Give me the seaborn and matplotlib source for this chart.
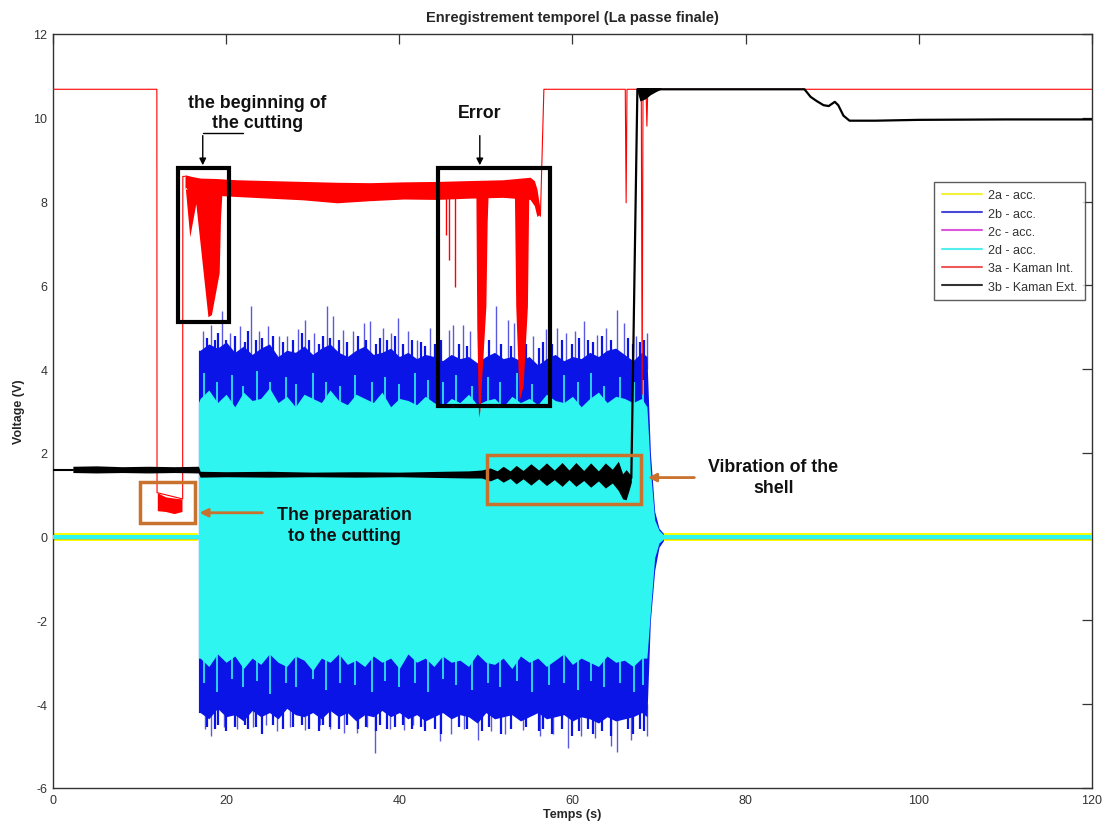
import numpy as np
import matplotlib.pyplot as plt
import matplotlib.patches as patches
from matplotlib.lines import Line2D
import seaborn as sns

sns.set_theme(style='white')
plt.rcParams['font.family'] = ['Liberation Sans', 'DejaVu Sans']
plt.rcParams['axes.unicode_minus'] = False

# ---- accelerometers 2b (blue) / 2d (cyan): envelopes ----
acc_t = [16.8,
         17, 18, 19, 20, 21, 22, 23, 24, 25, 26,
         27, 28, 29, 30, 31, 32, 33, 34, 35, 36,
         37, 38, 39, 40, 41, 42, 43, 44, 45, 46,
         47, 48, 49, 50, 51, 52, 53, 54, 55, 56,
         57, 58, 59, 60, 61, 62, 63, 64, 65, 66,
         67, 68,
         68.6, 69.0, 69.5, 70.0, 70.5]
blue_hi = [4.45,
           4.45, 4.6, 4.5, 4.65, 4.4, 4.55, 4.35, 4.5, 4.6, 4.3,
           4.45, 4.4, 4.55, 4.35, 4.5, 4.6, 4.4, 4.3, 4.45, 4.55,
           4.35, 4.4, 4.5, 4.3, 4.4, 4.25, 4.35, 4.3, 4.2, 4.35,
           4.25, 4.3, 4.15, 4.3, 4.4, 4.25, 4.3, 4.2, 4.3, 4.1,
           4.25, 4.35, 4.2, 4.3, 4.25, 4.4, 4.3, 4.45, 4.5, 4.35,
           4.2, 4.4,
           4.3, 2.0, 0.6, 0.2, 0.08]
blue_lo = [-4.2,
           -4.2, -4.35, -4.1, -4.3, -4.25, -4.4, -4.15, -4.3, -4.2, -4.35,
           -4.1, -4.25, -4.3, -4.2, -4.35, -4.15, -4.3, -4.2, -4.4, -4.25,
           -4.3, -4.15, -4.3, -4.2, -4.35, -4.25, -4.4, -4.3, -4.2, -4.35,
           -4.25, -4.3, -4.45, -4.2, -4.35, -4.3, -4.25, -4.4, -4.3, -4.2,
           -4.35, -4.3, -4.25, -4.4, -4.3, -4.35, -4.45, -4.3, -4.4, -4.35,
           -4.3, -4.2,
           -4.3, -2.0, -0.8, -0.25, -0.1]
cyan_hi = [3.2,
           3.3, 3.5, 3.2, 3.4, 3.1, 3.45, 3.25, 3.3, 3.55, 3.2,
           3.35, 3.1, 3.4, 3.3, 3.2, 3.5, 3.25, 3.15, 3.4, 3.3,
           3.2, 3.45, 3.1, 3.3, 3.25, 3.15, 3.35, 3.2, 3.1, 3.3,
           3.2, 3.4, 3.15, 3.25, 3.3, 3.1, 3.35, 3.2, 3.3, 3.15,
           3.4, 3.25, 3.2, 3.35, 3.1, 3.3, 3.45, 3.2, 3.35, 3.3,
           3.2, 3.3,
           3.1, 1.6, 0.4, 0.15, 0.05]
cyan_lo = [-2.9,
           -2.9, -3.1, -2.8, -3.0, -2.85, -3.15, -2.9, -3.05, -2.8, -3.0,
           -3.1, -2.85, -2.95, -3.2, -2.9, -3.0, -2.8, -3.05, -2.95, -3.1,
           -2.85, -3.0, -2.9, -3.15, -2.8, -3.0, -2.9, -3.1, -2.85, -3.0,
           -2.95, -3.1, -2.8, -3.0, -3.05, -2.9, -3.15, -2.85, -3.0, -2.9,
           -3.1, -2.95, -2.8, -3.05, -2.9, -3.0, -3.1, -2.85, -3.0, -2.95,
           -3.1, -2.9,
           -2.9, -1.8, -0.5, -0.15, -0.06]

# tall (light) spikes of 2b
top_spike_t = [17.3, 18.2, 19.5, 20.4, 21.6, 22.9, 23.8, 24.8, 26.1, 27.0,
               28.3, 29.1, 30.2, 31.7, 32.4, 33.5, 34.6, 35.9, 36.6, 38.1,
               39.0, 39.9, 41.0, 42.0, 43.5, 45.7, 46.2, 47.4, 48.2, 51.2,
               52.5, 53.2, 55.5, 57.0, 58.2, 59.3, 60.3, 61.3, 62.8, 63.9,
               65.1, 65.9, 67.3, 68.6]
top_spike_v = [4.9, 5.05, 5.38, 4.85, 5.02, 5.5, 4.9, 5.02, 4.8, 4.78,
               4.95, 5.18, 4.85, 5.5, 5.26, 4.94, 4.9, 5.1, 5.14, 4.98,
               4.85, 5.22, 4.9, 4.7, 4.98, 4.94, 5.06, 5.06, 4.9, 5.5,
               5.18, 5.1, 4.78, 4.95, 4.98, 4.86, 4.9, 5.14, 4.82, 4.98,
               5.42, 5.1, 4.8, 4.86]
bot_spike_t = [17.6, 18.3, 19.8, 21.2, 23.1, 24.6, 25.9, 27.4, 29.1, 30.8,
               32.0, 33.6, 35.1, 36.3, 37.2, 38.9, 40.5, 41.6, 42.8, 44.7,
               46.0, 47.5, 49.1, 50.6, 52.2, 54.3, 56.2, 57.8, 59.5, 61.0,
               62.6, 64.5, 65.1, 66.8, 68.6]
bot_spike_v = [-4.6, -4.77, -4.55, -4.6, -4.54, -4.5, -4.65, -4.55, -4.61, -4.5,
               -4.6, -4.69, -4.69, -4.55, -5.16, -4.6, -4.61, -4.5, -4.53, -4.89,
               -4.7, -4.6, -4.85, -4.65, -4.7, -4.61, -4.77, -4.7, -5.05, -4.75,
               -4.8, -5.0, -5.13, -4.85, -4.77]
# short (dark) spikes of 2b
mid_spike_t = [17.8, 18.7, 19.1, 20.0, 21.0, 22.2, 22.5, 23.4, 24.2, 25.4,
               26.6, 27.7, 28.8, 29.6, 30.7, 31.2, 32.0, 33.0, 34.0, 35.2,
               36.1, 37.3, 37.8, 38.6, 39.5, 40.4, 41.5, 42.5, 43.0, 44.1,
               44.8, 46.9, 47.8, 49.6, 50.4, 51.8, 52.9, 54.6, 56.1, 56.6,
               57.6, 58.8, 59.9, 60.8, 61.8, 62.4, 63.4, 64.5, 66.4, 67.0,
               67.8, 68.3]
mid_spike_hi = [4.75, 4.7, 4.85, 4.7, 4.8, 4.65, 4.9, 4.7, 4.75, 4.8,
                4.65, 4.7, 4.85, 4.7, 4.6, 4.8, 4.75, 4.7, 4.65, 4.8,
                4.7, 4.6, 4.75, 4.7, 4.8, 4.6, 4.7, 4.65, 4.55, 4.6,
                4.7, 4.6, 4.55, 4.65, 4.7, 4.6, 4.55, 4.6, 4.5, 4.65,
                4.6, 4.7, 4.6, 4.75, 4.7, 4.65, 4.8, 4.7, 4.75, 4.6,
                4.65, 4.7]
mid_spike_lo = [-4.55, -4.6, -4.5, -4.65, -4.55, -4.5, -4.6, -4.55, -4.7, -4.5,
                -4.6, -4.55, -4.5, -4.6, -4.65, -4.5, -4.55, -4.6, -4.5, -4.6,
                -4.55, -4.65, -4.5, -4.6, -4.55, -4.5, -4.6, -4.55, -4.65, -4.6,
                -4.7, -4.55, -4.6, -4.65, -4.55, -4.7, -4.6, -4.55, -4.65, -4.6,
                -4.7, -4.6, -4.75, -4.65, -4.6, -4.7, -4.65, -4.75, -4.6, -4.7,
                -4.6, -4.65]
# spikes of 2d reaching into the 2b band
cyan_spike_t = [17.4, 18.9, 20.7, 21.9, 23.6, 25.1, 26.9, 28.1, 30.0, 31.5,
                33.2, 34.9, 36.8, 38.4, 40.0, 41.8, 43.3, 45.0, 46.6, 48.4,
                50.2, 51.6, 53.6, 55.3, 57.3, 59.0, 60.6, 62.2, 63.7, 65.5,
                67.1, 68.2]
cyan_spike_hi = [3.9, 3.7, 3.85, 3.6, 3.95, 3.7, 3.8, 3.65, 3.9, 3.7,
                 3.6, 3.85, 3.7, 3.8, 3.65, 3.9, 3.75, 3.7, 3.85, 3.6,
                 3.8, 3.7, 3.9, 3.65, 3.75, 3.85, 3.7, 3.9, 3.6, 3.8,
                 3.7, 3.75]
cyan_spike_lo = [-3.5, -3.7, -3.4, -3.6, -3.45, -3.75, -3.5, -3.6, -3.4, -3.65,
                 -3.5, -3.55, -3.7, -3.45, -3.6, -3.5, -3.7, -3.4, -3.55, -3.65,
                 -3.5, -3.6, -3.45, -3.7, -3.55, -3.5, -3.65, -3.45, -3.6, -3.5,
                 -3.7, -3.55]

# quiet parts of the four accelerometers (before / after cutting)
quiet_pre_t = [0, 16.8]
quiet_post_t = [70.5, 120]
yellow_hi, yellow_lo = 0.09, -0.11
magenta_v, blue_v, cyan_v = 0.02, -0.03, 0.0

# ---- 3a Kaman Int. (red) ----
red_pre_t = [0, 12.0, 12.02, 14.98, 15.0, 15.25]
red_pre_v = [10.68, 10.68, 1.05, 0.9, 8.6, 8.6]
red_prep_t = [12.05, 13, 14, 14.9]
red_prep_hi = [1.05, 0.95, 0.92, 0.9]
red_prep_lo = [0.62, 0.6, 0.55, 0.6]
red_band_t = [15.25, 16, 17, 18.8, 21.2, 25, 28.9, 32.8, 36.6, 40.5, 44.3, 48, 52, 55.1, 55.6, 55.9, 56.2]
red_band_hi = [8.64, 8.6, 8.56, 8.55, 8.52, 8.5, 8.48, 8.46, 8.45, 8.47, 8.48, 8.5, 8.52, 8.58, 8.5, 8.3, 7.9]
red_band_lo = [8.35, 8.2, 8.15, 8.15, 8.12, 8.08, 8.04, 7.97, 8.02, 8.06, 8.05, 8.08, 8.1, 8.05, 7.9, 7.64, 7.7]
cut_drop_t = [15.25, 15.8, 16.5, 17.9, 18.3, 19.2, 19.35, 19.5]
cut_drop_lo = [8.4, 7.16, 7.95, 5.25, 5.3, 6.3, 7.6, 8.15]
err_drop1_t = [48.85, 48.95, 49.15, 49.3, 50.0, 50.15, 50.25]
err_drop1_lo = [8.1, 5.0, 2.85, 3.0, 5.5, 7.5, 8.1]
err_drop2_t = [53.3, 53.45, 53.85, 54.3, 54.8, 54.95]
err_drop2_lo = [8.1, 5.5, 3.25, 3.6, 5.5, 8.1]
thin_drop_t = [45.4, 45.7, 46.4]
thin_drop_v = [7.2, 6.6, 5.97]
red_post_t = [56.2, 56.3, 56.7, 66.1, 66.2, 66.3, 67.95, 68.05, 68.15, 68.5, 68.6, 68.7, 120]
red_post_v = [7.7, 7.65, 10.68, 10.68, 7.97, 10.68, 10.68, 3.4, 10.68, 10.68, 9.8, 10.68, 10.68]

# ---- 3b Kaman Ext. (black) ----
blk_pre_t = [0, 2.3]
blk_pre_v = [1.6, 1.6]
blk_band_t = [2.3, 5, 8, 11, 14, 16.8, 17.0, 20, 25, 30, 35, 40, 45, 48, 49.5,
              50.5, 51.3, 52.0, 52.8, 53.5, 54.3, 55.2, 56.1, 57.0, 57.9, 58.8,
              59.6, 60.4, 61.3, 62.1, 63.0, 63.8, 64.6, 65.3, 65.8, 66.2, 66.6, 66.8]
blk_band_hi = [1.68, 1.69, 1.67, 1.68, 1.67, 1.68, 1.56, 1.55, 1.56, 1.54, 1.55, 1.54, 1.56, 1.57, 1.59,
               1.64, 1.57, 1.68, 1.57, 1.7, 1.58, 1.74, 1.59, 1.76, 1.59, 1.77,
               1.59, 1.77, 1.58, 1.76, 1.57, 1.76, 1.61, 1.8, 1.5, 1.6, 1.5, 1.45]
blk_band_lo = [1.53, 1.52, 1.53, 1.52, 1.53, 1.52, 1.42, 1.43, 1.42, 1.43, 1.42, 1.43, 1.41, 1.4, 1.4,
               1.33, 1.4, 1.3, 1.39, 1.26, 1.38, 1.23, 1.38, 1.22, 1.36, 1.2,
               1.36, 1.2, 1.34, 1.18, 1.33, 1.16, 1.28, 1.1, 0.9, 0.88, 1.15, 1.3]
blk_post_t = [66.8, 67.5, 86.8, 87.5, 88.2, 89.0, 89.6, 90.3, 90.7, 91.3, 92.0, 95, 100, 110, 120]
blk_post_v = [1.4, 10.68, 10.68, 10.5, 10.4, 10.3, 10.28, 10.38, 10.3, 10.05, 9.93, 9.93, 9.95, 9.96, 9.96]
blk_blob_t = [67.4, 67.8, 68.4, 69.0, 69.6, 70.2]
blk_blob_lo = [10.68, 10.4, 10.45, 10.55, 10.62, 10.68]

labels = ['2a - acc.', '2b - acc.', '2c - acc.', '2d - acc.', '3a - Kaman Int.', '3b - Kaman Ext.']
legend_colors = ['#f2f23a', '#4a4ad8', '#dd55dd', '#55eeee', '#ee5a5a', '#333333']

YELLOW, BLUE, MAGENTA, CYAN, RED = '#ffff00', '#0a14e6', '#ff00ff', '#2ef5f0', '#ff0000'
LIGHT_BLUE = '#5a5ae0'
ORANGE = '#c8722e'

fig = plt.figure(figsize=(11.08, 8.29), dpi=100)
ax = fig.add_axes([0.0478, 0.0483, 0.9377, 0.9095])

# quiet accelerometer traces
for qt in (quiet_pre_t, quiet_post_t):
    ax.fill_between(qt, yellow_lo, yellow_hi, color=YELLOW, lw=0, zorder=2)
    sns.lineplot(x=qt, y=[blue_v, blue_v], color=BLUE, lw=1, ax=ax, zorder=3)
    sns.lineplot(x=qt, y=[magenta_v, magenta_v], color=MAGENTA, lw=1, ax=ax, zorder=3)
    sns.lineplot(x=qt, y=[cyan_v, cyan_v], color=CYAN, lw=3, ax=ax, zorder=4)

# blue channel during cutting
ax.vlines(top_spike_t, 4.0, top_spike_v, color=LIGHT_BLUE, lw=1.0, zorder=3)
ax.vlines(bot_spike_t, bot_spike_v, -4.0, color=LIGHT_BLUE, lw=1.0, zorder=3)
ax.vlines(mid_spike_t, 4.0, mid_spike_hi, color=BLUE, lw=1.6, zorder=3)
ax.vlines(mid_spike_t, mid_spike_lo, -4.0, color=BLUE, lw=1.6, zorder=3)
ax.fill_between(acc_t, blue_lo, blue_hi, color=BLUE, lw=0, zorder=3)
# cyan channel
ax.vlines(cyan_spike_t, 3.0, cyan_spike_hi, color=CYAN, lw=1.2, zorder=4)
ax.vlines(cyan_spike_t, cyan_spike_lo, -2.8, color=CYAN, lw=1.2, zorder=4)
ax.fill_between(acc_t, cyan_lo, cyan_hi, color=CYAN, lw=0, zorder=4)

# red channel
sns.lineplot(x=red_pre_t, y=red_pre_v, color=RED, lw=0.8, sort=False, estimator=None, ax=ax, zorder=5)
ax.fill_between(red_prep_t, red_prep_lo, red_prep_hi, color=RED, lw=0, zorder=5)
ax.fill_between(red_band_t, red_band_lo, red_band_hi, color=RED, lw=0, zorder=5)
for dt, dl in ((cut_drop_t, cut_drop_lo), (err_drop1_t, err_drop1_lo), (err_drop2_t, err_drop2_lo)):
    ax.fill_between(dt, dl, 8.3, color=RED, lw=0, zorder=5)
ax.vlines(thin_drop_t, thin_drop_v, 8.1, color=RED, lw=1, zorder=5)
sns.lineplot(x=red_post_t, y=red_post_v, color=RED, lw=0.8, sort=False, estimator=None, ax=ax, zorder=5)

# black channel
sns.lineplot(x=blk_pre_t, y=blk_pre_v, color='black', lw=1.5, ax=ax, zorder=6)
ax.fill_between(blk_band_t, blk_band_lo, blk_band_hi, color='black', lw=0, zorder=6)
sns.lineplot(x=blk_post_t, y=blk_post_v, color='black', lw=1.6, sort=False, estimator=None, ax=ax, zorder=6)
ax.fill_between(blk_blob_t, blk_blob_lo, 10.72, color='black', lw=0, zorder=6)

# annotation boxes
for (x0, y0, w, h, c, lw) in [(14.4, 5.13, 5.9, 3.67, 'black', 3),
                              (44.5, 3.13, 12.9, 5.67, 'black', 3),
                              (10.05, 0.33, 6.35, 0.98, ORANGE, 2.5),
                              (50.1, 0.79, 17.8, 1.17, ORANGE, 2.5)]:
    ax.add_patch(patches.Rectangle((x0, y0), w, h, fill=False, ec=c, lw=lw, zorder=7))

txt = dict(fontsize=12.8, fontweight='bold', ha='center', va='center', color='#111111', zorder=8)
ax.text(23.6, 10.12, 'the beginning of\nthe cutting', linespacing=1.2, **txt)
ax.plot([21.9, 17.3], [9.64, 9.64], color='black', lw=1, zorder=8)
ax.annotate('', xy=(17.3, 8.8), xytext=(17.3, 9.64),
            arrowprops=dict(arrowstyle='-|>', color='black', lw=1, mutation_scale=10), zorder=8)
ax.text(49.3, 10.12, 'Error', **txt)
ax.annotate('', xy=(49.3, 8.8), xytext=(49.3, 9.64),
            arrowprops=dict(arrowstyle='-|>', color='black', lw=1, mutation_scale=10), zorder=8)
ax.text(33.7, 0.28, 'The preparation\nto the cutting', linespacing=1.35, **txt)
ax.annotate('', xy=(16.6, 0.57), xytext=(24.5, 0.57),
            arrowprops=dict(arrowstyle='-|>', color=ORANGE, lw=2, mutation_scale=12), zorder=8)
ax.text(83.2, 1.43, 'Vibration of the\nshell', linespacing=1.3, **txt)
ax.annotate('', xy=(68.4, 1.41), xytext=(74.4, 1.41),
            arrowprops=dict(arrowstyle='-|>', color=ORANGE, lw=2, mutation_scale=12), zorder=8)

ax.set_xlim(0, 120)
ax.set_ylim(-6, 12)
ax.set_xticks([0, 20, 40, 60, 80, 100, 120])
ax.set_yticks([-6, -4, -2, 0, 2, 4, 6, 8, 10, 12])
ax.tick_params(direction='in', top=True, right=True, length=7, width=0.9,
               labelsize=9, labelcolor='#333333', color='#333333', pad=4)
for s in ax.spines.values():
    s.set_color('#333333')
    s.set_linewidth(1)
ax.set_xlabel('Temps (s)', fontsize=9, fontweight='bold', labelpad=2)
ax.set_ylabel('Voltage (V)', fontsize=9, fontweight='bold', labelpad=6)
ax.set_title('Enregistrement temporel (La passe finale)', fontsize=10.5, fontweight='bold', pad=9)

handles = [Line2D([], [], color=c, lw=1.5) for c in legend_colors]
leg = ax.legend(handles, labels, loc='upper right', bbox_to_anchor=(0.993, 0.804),
                fontsize=9, frameon=True, fancybox=False, edgecolor='#333333',
                handlelength=3.2, handletextpad=0.5, labelspacing=0.5, borderpad=0.6,
                borderaxespad=0)
leg.get_frame().set_linewidth(1)
for t in leg.get_texts():
    t.set_color('#333333')

fig.savefig('out.png', dpi=100)
